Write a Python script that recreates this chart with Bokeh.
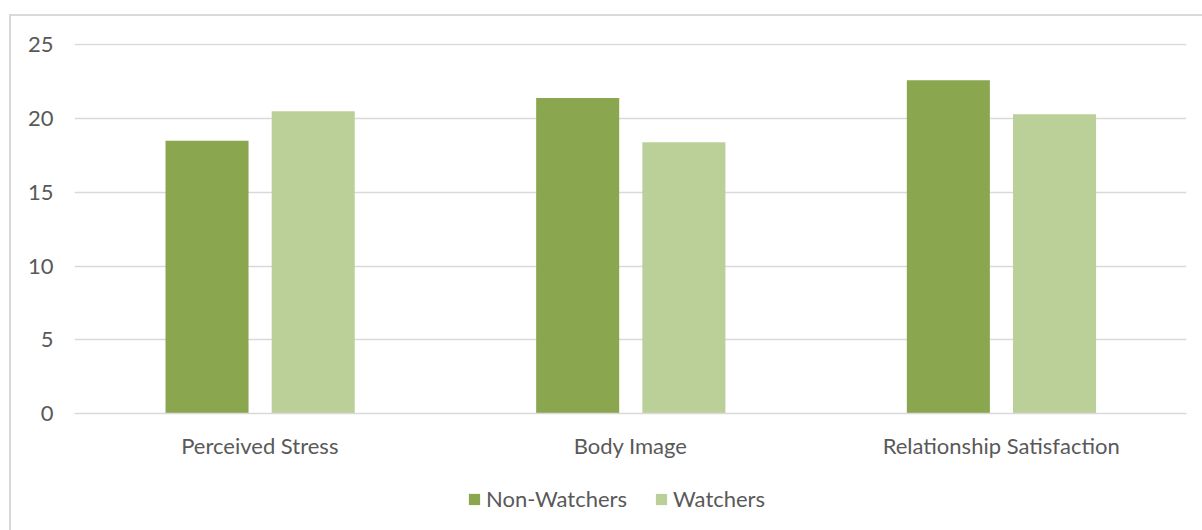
from bokeh.plotting import figure
from bokeh.layouts import column
from bokeh.models import ColumnDataSource, FactorRange, Legend, LegendItem, SingleIntervalTicker
from bokeh.transform import dodge
from bokeh.embed import file_html
from bokeh.resources import INLINE

categories = ["Perceived Stress", "Body Image", "Relationship Satisfaction"]
non_watchers = [18.5, 21.4, 22.6]
watchers = [20.5, 18.4, 20.3]
series_names = ["Non-Watchers", "Watchers"]

DARK = "#8aa64e"
LIGHT = "#bbcf98"
TEXT = "#595959"
GRID = "#d9d9d9"
FONT = "Lato"
FS = "22px"

src = ColumnDataSource(dict(cat=categories, nw=non_watchers, w=watchers))

fig = figure(width=1191, height=454, x_range=FactorRange(*categories), y_range=(0, 25.1),
             output_backend="svg", toolbar_location=None,
             min_border_left=63, min_border_right=16, min_border_top=27, min_border_bottom=57)

r1 = fig.vbar(x=dodge("cat", -0.1425, range=fig.x_range), top="nw", width=0.224, source=src,
              fill_color=DARK, line_color=None)
r2 = fig.vbar(x=dodge("cat", 0.144, range=fig.x_range), top="w", width=0.224, source=src,
              fill_color=LIGHT, line_color=None)

fig.outline_line_color = None
fig.xgrid.grid_line_color = None
fig.ygrid.grid_line_color = GRID
fig.ygrid.grid_line_width = 1.5
fig.yaxis.ticker = SingleIntervalTicker(interval=5)

fig.yaxis.axis_line_color = None
fig.yaxis.major_tick_line_color = None
fig.yaxis.minor_tick_line_color = None
fig.yaxis.major_label_standoff = 15
fig.yaxis.major_label_text_font = FONT
fig.yaxis.major_label_text_font_size = FS
fig.yaxis.major_label_text_color = TEXT

fig.xaxis.axis_line_color = GRID
fig.xaxis.axis_line_width = 1.5
fig.xaxis.major_tick_line_color = None
fig.xaxis.major_tick_in = 0
fig.xaxis.major_tick_out = 0
fig.xaxis.major_label_standoff = 18
fig.xaxis.major_label_text_font = FONT
fig.xaxis.major_label_text_font_size = FS
fig.xaxis.major_label_text_color = TEXT

# legend panel: a second figure whose frame fills it, holding the legend
# (its bars sit outside its y-range, so only the legend is seen)
leg_fig = figure(width=1191, height=60, x_range=FactorRange(*categories), y_range=(100, 101),
                 output_backend="svg", toolbar_location=None,
                 min_border_left=0, min_border_right=0, min_border_top=0, min_border_bottom=0)
leg_fig.axis.visible = False
leg_fig.grid.visible = False
leg_fig.outline_line_color = None
lr1 = leg_fig.vbar(x="cat", top="nw", width=0.2, source=src, fill_color=DARK, line_color=None)
lr2 = leg_fig.vbar(x="cat", top="w", width=0.2, source=src, fill_color=LIGHT, line_color=None)

legend = Legend(items=[LegendItem(label=series_names[0], renderers=[lr1]),
                       LegendItem(label=series_names[1], renderers=[lr2])],
                orientation="horizontal", location=(393, 18),
                glyph_width=14, glyph_height=14, label_standoff=5, spacing=27,
                label_text_font=FONT, label_text_font_size=FS, label_text_color=TEXT,
                border_line_color=None, background_fill_alpha=0, padding=0, margin=0)
leg_fig.add_layout(legend, "center")

p = column(fig, leg_fig, margin=(14, 0, 0, 9), spacing=0,
           styles={"border-left": f"2px solid {GRID}", "border-top": f"2px solid {GRID}"})

open("out.html", "w").write(file_html(p, INLINE))
